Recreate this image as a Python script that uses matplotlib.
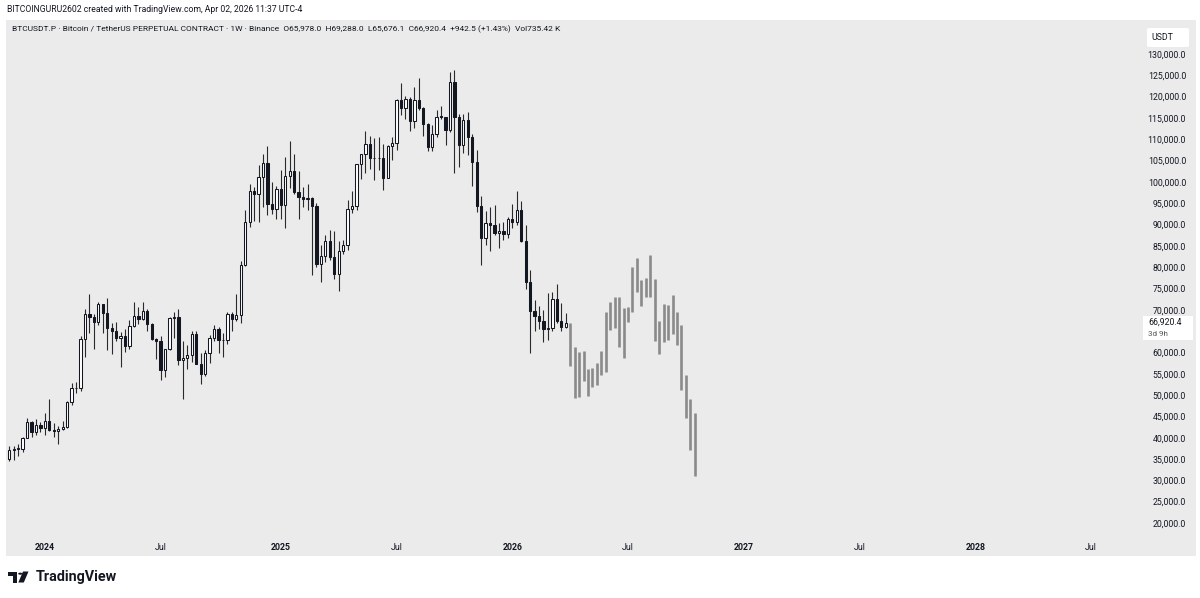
import matplotlib
matplotlib.use('Agg')
import matplotlib.pyplot as plt
import matplotlib.dates as mdates
from matplotlib.patches import Rectangle, Polygon, Circle, FancyBboxPatch
import pandas as pd
from datetime import datetime

W, H = 1200, 598

# ---------------- data (weekly BTCUSDT.P candles, Nov 6 2023 .. Mar 30 2026) ----------------
first_week = '2023-11-06'
opens = [35000, 37060, 37380, 37450, 39970, 43800, 41370, 42980,
         42280, 43920, 41730, 41580, 42030, 42580, 48300, 51650, 51730, 63110, 68960, 68390, 67210,
         71280, 69360, 65700, 64940, 63430, 63900, 61480, 66270, 68500, 67750, 69650, 66650, 63200,
         62680, 55860, 60800, 68160, 68250, 58120, 58710, 59420, 64220, 57300, 54840, 59950, 63350,
         65600, 62850, 62900, 69000, 67950, 68750, 80400, 90550, 97900, 97200, 101100, 104450, 94900, 93700,
         98300, 94500, 101300, 102600, 97700, 96450, 96100, 96270, 94270, 80730, 82600, 86080, 82390,
         78370, 83760, 85170, 93750, 94300, 104100, 106450, 109000, 105700, 105600, 105550, 100950,
         108390, 109200, 119100, 117300, 119400, 114200, 119300, 117400, 113500, 108250, 111150, 115300,
         115250, 112200, 123500, 115200, 108650, 114500, 110500, 104700, 94250, 86800, 90400, 90000,
         88100, 88500, 87700,
         91200, 90600, 93300, 86100, 76500, 69800, 68600, 67300, 65400, 65800, 72500, 67300, 65978]
highs = [37980, 38000, 38420, 40250, 44700, 44000, 44400, 43800,
         45900, 48970, 43570, 42840, 43880, 48590, 52820, 52990, 63900, 70170, 73780, 68920, 71770,
         71300, 72800, 66900, 67230, 64740, 65500, 67700, 71950, 70600, 71950, 70190, 66990, 63400,
         63850, 59470, 68400, 69400, 70080, 62750, 61800, 65000, 64960, 59800, 60650, 64130, 66500,
         66000, 64480, 69400, 69500, 73600, 81500, 93480, 99600, 98800, 104000, 106500, 108350, 99960, 98980,
         102700, 105900, 109590, 106460, 102500, 98800, 99500, 96500, 95000, 85300, 87450, 88750, 88500,
         86100, 86430, 95750, 97900, 104150, 106650, 111980, 110700, 110400, 110600, 108950, 108550,
         110530, 119500, 123220, 120250, 119800, 122300, 124470, 117600, 113800, 113380, 116780, 117900,
         115300, 125700, 126200, 115900, 116000, 116400, 111200, 107500, 96600, 93100, 94150, 94600,
         90400, 90600, 91800,
         94800, 97900, 95500, 90000, 79300, 72300, 70900, 70000, 74000, 74200, 76000, 71500, 69288]
lows = [34520, 34800, 35630, 36700, 39970, 40200, 40550, 41300,
        40750, 41500, 40280, 38550, 41880, 42260, 47710, 50520, 50900, 59000, 64550, 60770, 66400,
        64490, 60660, 59600, 62800, 56550, 60190, 60750, 66060, 66620, 67600, 65080, 62900, 58400,
        53480, 54260, 60600, 63450, 57120, 49000, 56100, 57800, 57200, 52550, 54580, 57500, 62670,
        59830, 58900, 62050, 65060, 67450, 66800, 80220, 89400, 90800, 90500, 94150, 92150, 92500, 91200,
        91200, 89250, 98600, 97100, 91230, 94100, 93350, 78200, 80000, 76600, 81130, 81600, 77150,
        74500, 83100, 83950, 92800, 93400, 100700, 102000, 103000, 100370, 102700, 98200, 100800,
        105100, 107500, 115700, 114700, 111900, 112600, 116800, 110700, 107300, 107250, 110600, 114700,
        108600, 111600, 102000, 103500, 106700, 106300, 98950, 93000, 80600, 85300, 83800, 87500,
        84400, 86400, 86800,
        89300, 89800, 86000, 75000, 59800, 65100, 65600, 62500, 63000, 65000, 67000, 65000, 65676]
closes = [37060, 37380, 37450, 39970, 43800, 41370, 42980, 42280,
          43920, 41730, 41580, 42030, 42580, 48300, 51650, 51730, 63110, 68960, 68390, 67210, 71280,
          69360, 65700, 64940, 63430, 63900, 61480, 66270, 68500, 67750, 69650, 66650, 63200, 62680,
          55860, 60800, 68160, 68250, 58120, 58710, 59420, 64220, 57300, 54840, 59950, 63350, 65600,
          62850, 62900, 69000, 67950, 68750, 80400, 90550, 97900, 97200, 101100, 104450, 94900, 93700, 98300,
          94500, 101300, 102600, 97700, 96450, 96100, 96270, 94270, 80730, 82600, 86080, 82390, 78370,
          83760, 85170, 93750, 94300, 104100, 106450, 109000, 105700, 105600, 105550, 100950, 108390,
          109200, 119100, 117300, 119400, 114200, 119300, 117400, 113500, 108250, 111150, 115300, 115250,
          112200, 123500, 115200, 108650, 114500, 110500, 104700, 94250, 86800, 90400, 90000, 88100,
          88500, 87700, 91200,
          90600, 93300, 86100, 76500, 69800, 68600, 67300, 65400, 65800, 72500, 67300, 65978, 66920]

# projected (bars pattern) weekly high/low ranges after the last candle
proj_highs = [66940, 61200, 60030, 60260, 56130, 56360, 57540, 60430, 69600, 71780, 72960, 72960,
              70460, 70770, 80000, 82120, 77110, 77510, 82920, 77280, 67480, 71410, 71240, 73360,
              69430, 66470, 54720, 49080, 45790]
proj_lows = [56740, 49310, 49450, 53210, 49850, 51970, 52370, 54790, 55500, 65360, 65670, 61370,
             58620, 67240, 69430, 74130, 71000, 72960, 72960, 62780, 59650, 62540, 63010, 64360,
             61770, 51260, 44610, 37160, 31050]

price_ticks = list(range(20000, 130001, 5000))
time_tick_dates = ['2024-01-01', '2024-07-01', '2025-01-06', '2025-07-07', '2026-01-05',
                   '2026-07-06', '2027-01-04', '2027-07-05', '2028-01-03', '2028-07-03']
time_tick_labels = ['2024', 'Jul', '2025', 'Jul', '2026', 'Jul', '2027', 'Jul', '2028', 'Jul']

header_text = ("BTCUSDT.P · Bitcoin / TetherUS PERPETUAL CONTRACT · 1W · Binance  "
               "O65,978.0  H69,288.0  L65,676.1  C66,920.4  +942.5 (+1.43%)  Vol735.42 K")
created_text = "BITCOINGURU2602 created with TradingView.com, Apr 02, 2026 11:37 UTC-4"
last_price_text = "66,920.4"
countdown_text = "3d 9h"
currency_text = "USDT"

# ---------------- styling ----------------
BG = '#ebebeb'
INK = '#131722'
FONT = ['Roboto', 'DejaVu Sans']
plt.rcParams['font.family'] = FONT

fig = plt.figure(figsize=(W / 100, H / 100), dpi=100, facecolor='white')
renderer = fig.canvas.get_renderer()


def fx(x):
    return x / W


def fy(y):
    return 1 - y / H


def fit_size(s, target_w, weight='normal', base=10.0):
    t = fig.text(0, 0, s, fontsize=base, weight=weight)
    w = t.get_window_extent(renderer).width
    t.remove()
    return base * target_w / w


# chart pane background (behind the axes)
fig.patches.append(Rectangle((fx(6), fy(556)), (1196 - 6) / W, (556 - 20) / H,
                             transform=fig.transFigure, facecolor=BG, edgecolor='none', zorder=-5))

ax_x0, ax_x1, ax_y0, ax_y1 = 6, 1140, 20, 535
ax = fig.add_axes([fx(ax_x0), fy(ax_y1), (ax_x1 - ax_x0) / W, (ax_y1 - ax_y0) / H])
ax.set_facecolor(BG)
ax.set_zorder(1)
for sp in ax.spines.values():
    sp.set_visible(False)

# x scale: dates
base = mdates.date2num(datetime(2024, 1, 1))
px_per_day = 0.63593
x_left = base - (44.9 - ax_x0) / px_per_day
x_right = base + (ax_x1 - 44.9) / px_per_day
ax.set_xlim(x_left, x_right)

# y scale
s = 469 / 110000.0
ymax = 130000 + (54 - ax_y0) / s
ymin = 20000 - (ax_y1 - 523) / s
ax.set_ylim(ymin, ymax)

dates = pd.date_range(first_week, periods=len(closes), freq='7D')
xs = mdates.date2num(dates.to_pydatetime())
proj_dates = pd.date_range(dates[-1] + pd.Timedelta(days=7), periods=len(proj_highs), freq='7D')
pxs = mdates.date2num(proj_dates.to_pydatetime())

# wicks
ax.vlines(xs, lows, highs, color='#2a2a2a', linewidth=0.8, zorder=2)
# bodies
bottoms = [min(o, c) for o, c in zip(opens, closes)]
heights = [max(abs(c - o), 120) for o, c in zip(opens, closes)]
faces = ['white' if c >= o else INK for o, c in zip(opens, closes)]
ax.bar(xs, heights, bottom=bottoms, width=3.6, color=faces, edgecolor=INK,
       linewidth=0.75, zorder=3)

# projected bars
ax.vlines(pxs, proj_lows, proj_highs, color='#8a8a8a', linewidth=1.9, zorder=2)

# ticks (the scale label hidden by the last-price tag is left blank, as on TradingView)
label_fs = fit_size("130,000.0", 38)
ax.yaxis.tick_right()
ax.set_yticks(price_ticks)
ax.set_yticklabels(['' if abs(v - closes[-1]) < 2500 else f"{v:,.1f}" for v in price_ticks])
ax.tick_params(axis='y', length=0, pad=(1186 - ax_x1) * 72 / 100, labelsize=label_fs, colors=INK)
for lbl in ax.get_yticklabels():
    lbl.set_horizontalalignment('right')

tick_nums = [mdates.date2num(datetime.strptime(d, '%Y-%m-%d')) for d in time_tick_dates]
ax.set_xticks(tick_nums)
ax.set_xticklabels(time_tick_labels)
ax.tick_params(axis='x', length=0, pad=5.5, labelsize=label_fs, colors=INK)
for lbl in ax.get_xticklabels():
    if lbl.get_text().isdigit():
        lbl.set_fontweight('bold')
ax.grid(False)

# header texts
fs_created = fit_size(created_text, 296)
fig.text(fx(7), fy(9.5), created_text, fontsize=fs_created, color=INK, va='center', ha='left')
fs_header = fit_size(header_text, 543)
fig.text(fx(12.5), fy(29.5), header_text, fontsize=fs_header, color=INK, va='center', ha='left',
         zorder=6)

# currency box
fig.patches.append(FancyBboxPatch((fx(1147), fy(47)), 42 / W, 19 / H,
                                  boxstyle='round,pad=0,rounding_size=0.002',
                                  transform=fig.transFigure, facecolor='white',
                                  edgecolor='none', zorder=5))
fig.text(fx(1162), fy(37.5), currency_text, fontsize=label_fs, color=INK,
         va='center', ha='center', zorder=6)

# last price label
y_last = 54 + (130000 - closes[-1]) * s
fig.patches.append(Rectangle((fx(1143), fy(y_last + 17.5)), 50 / W, 24 / H,
                             transform=fig.transFigure, facecolor='white',
                             edgecolor='none', zorder=5))
fig.text(fx(1148), fy(y_last - 0.5), last_price_text, fontsize=label_fs, color=INK,
         va='center', ha='left', zorder=6)
fig.text(fx(1148), fy(y_last + 11), countdown_text, fontsize=label_fs * 0.92, color='#555555',
         va='center', ha='left', zorder=6)


# TradingView logo
def poly(pts, **kw):
    fig.patches.append(Polygon([(fx(x), fy(y)) for x, y in pts], closed=True,
                               transform=fig.transFigure, **kw))


poly([(7.5, 571.5), (17, 571.5), (17, 582.5), (13, 582.5), (13, 575.5), (7.5, 575.5)],
     facecolor=INK, edgecolor='none', zorder=5)
fig.patches.append(Circle((fx(20.3), fy(573.7)), 2.1 / W, transform=fig.transFigure,
                          facecolor=INK, edgecolor='none', zorder=5))
poly([(23, 571.5), (28.5, 571.5), (23.8, 582.5), (18.3, 582.5)],
     facecolor=INK, edgecolor='none', zorder=5)
fs_logo = fit_size("TradingView", 81.5, weight='bold')
fig.text(fx(35.8), fy(577.5), "TradingView", fontsize=fs_logo, weight='bold', color=INK,
         va='center', ha='left')

fig.savefig('out.png', dpi=100, facecolor='white')
